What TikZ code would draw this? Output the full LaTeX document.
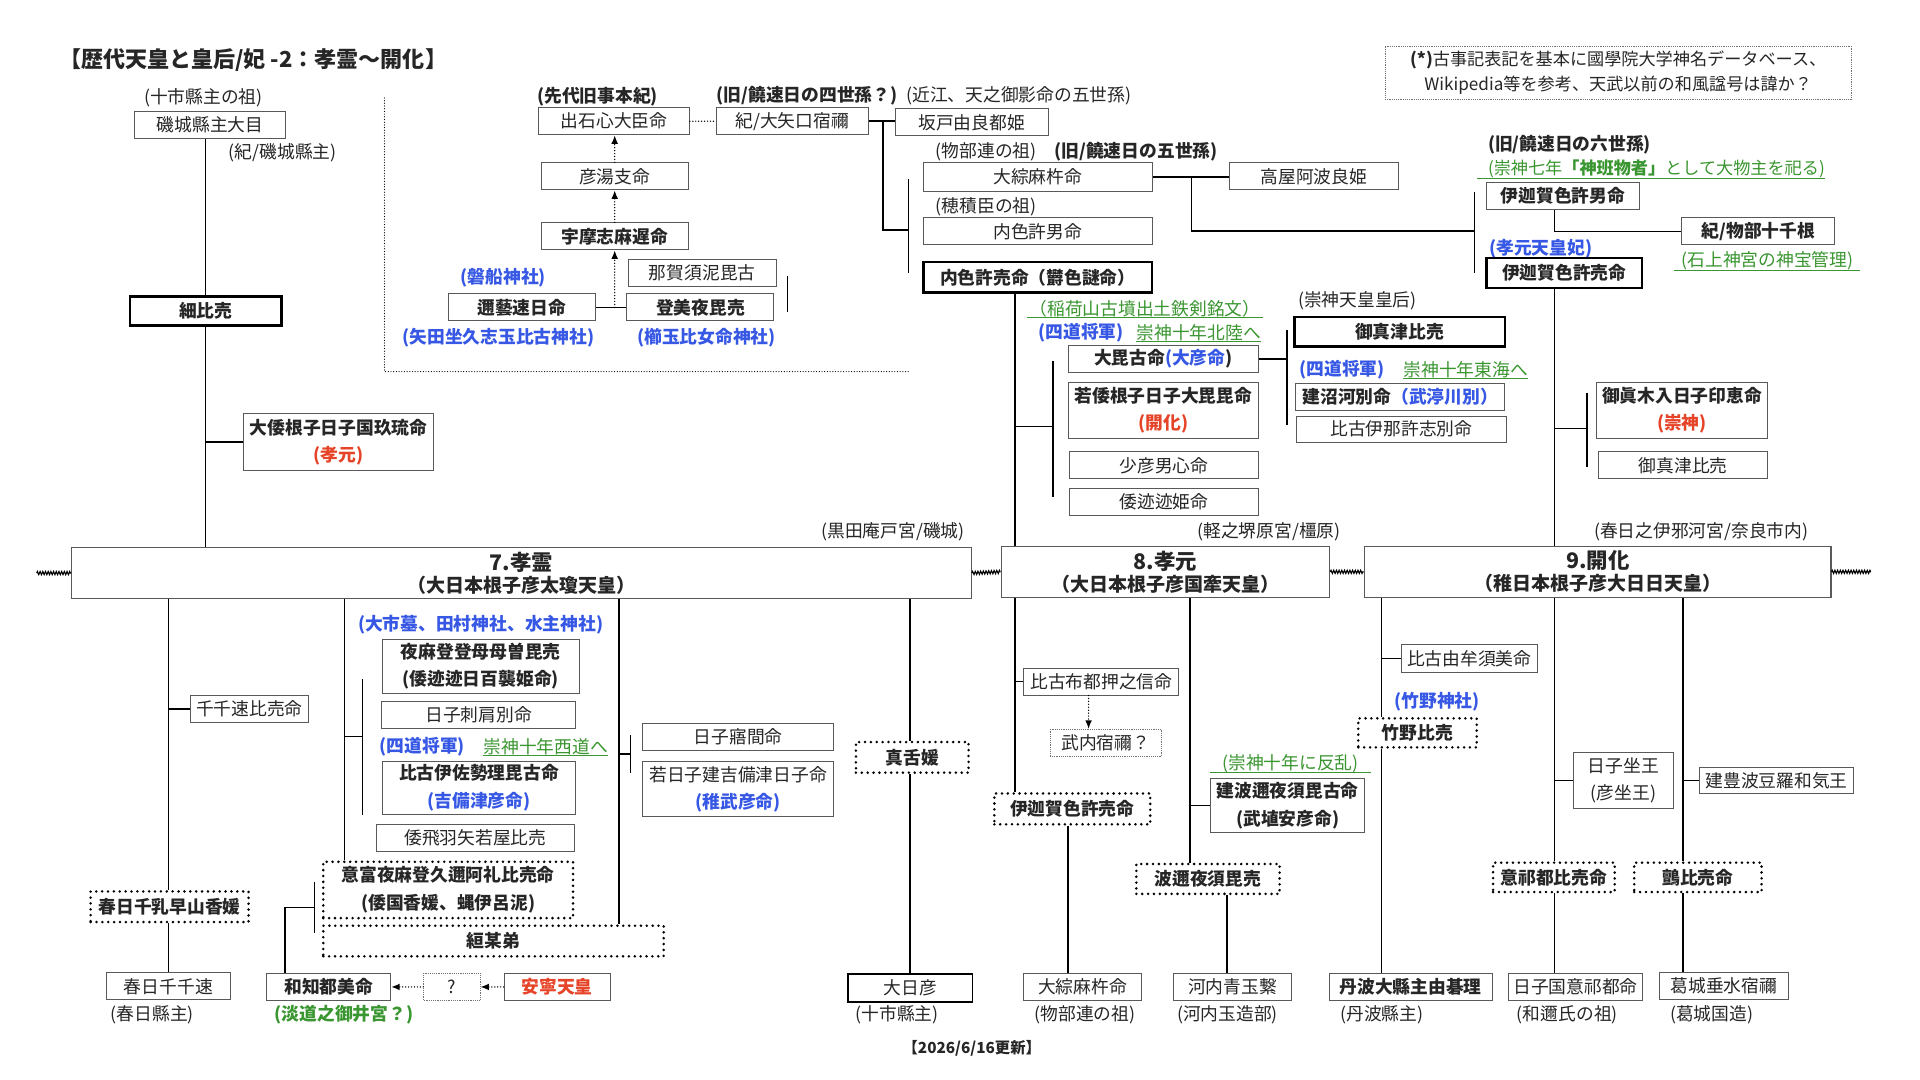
\documentclass[tikz,border=0pt]{standalone}
\usepackage{fontspec}
\setmainfont{Noto Sans CJK JP}
\usetikzlibrary{arrows.meta,decorations.pathmorphing}
\definecolor{nblue}{RGB}{55,88,228}
\definecolor{nred}{RGB}{230,68,40}
\definecolor{ngreen}{RGB}{58,150,48}
\newcommand\nfont{\fontsize{14.5}{22.5}\selectfont}
\newcommand\efont{\fontsize{17.5}{18}\selectfont}
\tikzset{sz/.style 2 args={minimum width=#1pt,minimum height=#2pt}}

\begin{document}
\begin{tikzpicture}[x=1pt,y=-1pt]
	\tikzstyle{every node}=[font=\nfont,inner sep=0pt,text=black!85]
	\tikzstyle{namebox}=[draw=black!65,line width=0.8pt]
	\tikzstyle{heavybox}=[draw=black,line width=2pt,font=\nfont\bfseries]
	\tikzstyle{dotbox}=[draw=black,line width=2.3pt,dash pattern=on 0pt off 4.8pt,line cap=round,font=\nfont\bfseries]
	\tikzstyle{faintbox}=[draw=black!55,line width=0.6pt,dash pattern=on 0.7pt off 0.8pt]
	\tikzstyle{emperor}=[draw=black!65,line width=0.9pt,align=center,font=\fontsize{15.5}{18}\selectfont\bfseries]
	\tikzstyle{conn}=[line width=1.2pt]
	\tikzstyle{dotconn}=[line width=1.2pt,dash pattern=on 0pt off 2.4pt,line cap=round]
	\tikzstyle{headarrow}=[-{Latex[length=7pt,width=5.5pt]}]
	\tikzstyle{shrine}=[text=nblue,font=\nfont\bfseries]
	\tikzstyle{note}=[text=ngreen]
	\tikzstyle{uline}=[ngreen,line width=0.8pt]
	\tikzstyle{squig}=[decorate,decoration={zigzag,amplitude=1.3pt,segment length=2.2pt},line width=0.9pt]

	\fill[white] (0,0) rectangle (1568,882);
	\useasboundingbox (0,0) rectangle (1568,882);

	% header
	\node[anchor=west,font=\fontsize{18}{20}\selectfont\bfseries] (title) at (48,49) {【歴代天皇と皇后/妃 -2：孝霊〜開化】};
	\node[faintbox,sz={381}{44},align=center,font=\fontsize{14}{20.5}\selectfont] (source) at (1321.5,59.5) {\textbf{(*)}古事記表記を基本に國學院大学神名データベース、\\Wikipedia等を参考、天武以前の和風諡号は諱か？};

	% left column
	\node (tochi) at (166,80) {(十市縣主の祖)};
	\node[namebox,sz={123}{22}] (ome) at (171.5,102) {磯城縣主大目};
	\node (kishiki) at (231,125) {(紀/磯城縣主)};
	\node[heavybox,sz={124}{24}] (hosohime) at (168,254) {細比売};
	\node[namebox,sz={155}{46},align=center,font=\nfont\bfseries] (kuniku) at (276.5,361) {大倭根子日子国玖琉命\\\textcolor{nred}{(孝元)}};

	% mononobe block
	\draw[dotconn,line width=1pt,dash pattern=on 0pt off 2.2pt] (314,80) -- (314,303.5) -- (742,303.5);
	\node[font=\nfont\bfseries] (kujiki) at (488,79) {(先代旧事本紀)};
	\node[namebox,sz={123}{22}] (izushi) at (501.5,99) {出石心大臣命};
	\node[namebox,sz={120}{22}] (hikoyu) at (502,144) {彦湯支命};
	\node[namebox,sz={120}{22},font=\nfont\bfseries] (umashi) at (502,193) {宇摩志麻遅命};
	\node[shrine] (iwafune) at (411,227) {(磐船神社)};
	\node[namebox,sz={120}{22},font=\nfont\bfseries] (nigi) at (426,251) {邇藝速日命};
	\node[shrine] (yata) at (407,276) {(矢田坐久志玉比古神社)};
	\node[namebox,sz={121}{22}] (nagasune) at (573.5,223) {那賀須泥毘古};
	\node[namebox,sz={120}{22},font=\nfont\bfseries] (tomiya) at (572,251) {登美夜毘売};
	\node[shrine] (kushi) at (577,276) {(櫛玉比女命神社)};

	\node[anchor=west,font=\nfont\bfseries] (yonse) at (585,78) {(旧/饒速日の四世孫？)};
	\node[anchor=west] (oumi) at (740,78) {(近江、天之御影命の五世孫)};
	\node[namebox,sz={124}{22}] (oyaguchi) at (647,99) {紀/大矢口宿禰};
	\node[namebox,sz={125}{22}] (sakato) at (793.5,100) {坂戸由良都姫};
	\node[anchor=west] (mononobe) at (764,124) {(物部連の祖)};
	\node[anchor=west,font=\nfont\bfseries] (gose) at (861,124) {(旧/饒速日の五世孫)};
	\node[namebox,sz={187}{23}] (oheso) at (847.5,144.5) {大綜麻杵命};
	\node[anchor=west] (hozumi) at (764,169) {(穂積臣の祖)};
	\node[namebox,sz={187}{22}] (utsushio) at (847.5,189) {内色許男命};
	\node[heavybox,sz={187}{25}] (utsushime) at (847.5,226.5) {内色許売命（欝色謎命）};
	\node[namebox,sz={138}{22}] (takaya) at (1073,144) {高屋阿波良姫};

	\node[anchor=west,font=\nfont\bfseries] (rokuse) at (1215,118) {(旧/饒速日の六世孫)};
	\node[anchor=west,note,font=\fontsize{14}{20}\selectfont] (mitoshi) at (1215,138) {(崇神七年\textbf{「神班物者」}として大物主を祀る)};
	\node[namebox,sz={125}{22},font=\nfont\bfseries] (ikagao) at (1276.5,160) {伊迦賀色許男命};
	\node[namebox,sz={125}{22},font=\nfont\bfseries] (tochine) at (1436,189) {紀/物部十千根};
	\node[anchor=west,shrine] (kisaki) at (1216,203) {(孝元天皇妃)};
	\node[anchor=west,note] (isonokami) at (1373,213) {(石上神宮の神宝管理)};
	\node[heavybox,sz={127}{24.5}] (ikagame) at (1277.5,223) {伊迦賀色許売命};

	% ohbiko block
	\node[note] (inari) at (935,252) {（稲荷山古墳出土鉄剣銘文）};
	\node[anchor=west,shrine] (shido1) at (848,272) {(四道将軍)};
	\node[anchor=west,note] (hokuriku) at (928,272) {崇神十年北陸へ};
	\node[namebox,sz={155}{22},font=\nfont\bfseries] (ohbiko) at (950,293) {大毘古命\textcolor{nblue}{(大彦命}) };
	\node[namebox,sz={155}{45.5},align=center,font=\nfont\bfseries] (kaika) at (950,335) {若倭根子日子大毘毘命\\\textcolor{nred}{(開化)}};
	\node[namebox,sz={155}{22}] (sukuna) at (950.5,380) {少彦男心命};
	\node[namebox,sz={155}{22}] (yamatoto) at (950.5,410) {倭迹迹姫命};
	\node[anchor=west] (kogo) at (1060,246) {(崇神天皇皇后)};
	\node[heavybox,sz={172}{24}] (mimatsu) at (1143,271) {御真津比売};
	\node[anchor=west,shrine] (shido2) at (1061,302) {(四道将軍)};
	\node[anchor=west,note] (tokai) at (1146,302) {崇神十年東海へ};
	\node[namebox,sz={171}{22},font=\nfont\bfseries] (takenuna) at (1143.5,324) {建沼河別命\textcolor{nblue}{（武渟川別）}};
	\node[namebox,sz={171}{21}] (ikoshi) at (1144.5,350.5) {比古伊那許志別命};
	\node[namebox,sz={140}{45.5},align=center,font=\nfont\bfseries] (sujin) at (1373.6,335) {御眞木入日子印恵命\\\textcolor{nred}{(崇神)}};
	\node[namebox,sz={138}{22}] (mimatsu2) at (1374.6,380) {御真津比売};

	% emperors
	\node[anchor=east] (kuroda) at (788,434) {(黒田庵戸宮/磯城)};
	\node[anchor=east] (karu) at (1095,434) {(軽之堺原宮/橿原)};
	\node[anchor=east] (isagawa) at (1477,434) {(春日之伊邪河宮/奈良市内)};
	\node[emperor,sz={734.6}{42}] (k7) at (426,468) {{\efont 7.孝霊}\\（大日本根子彦太瓊天皇）};
	\node[emperor,sz={268.4}{42}] (k8) at (951.8,467) {{\efont 8.孝元}\\（大日本根子彦国牽天皇）};
	\node[emperor,sz={381}{42}] (k9) at (1304.8,467) {{\efont 9.開化}\\（稚日本根子彦大日日天皇）};
	\coordinate (wl) at (30,468);
	\coordinate (wr) at (1528,467);
	\draw[squig] (wl) -- (k7.west);
	\draw[squig] (k7.east) -- (k8.west);
	\draw[squig] (k8.east) -- (k9.west);
	\draw[squig] (k9.east) -- (wr);

	% below korei
	\node[namebox,sz={96}{22.5}] (chihaya) at (203.7,579) {千千速比売命};
	\node[dotbox,sz={129}{25}] (kasuga) at (138.5,740.5) {春日千乳早山香媛};
	\node[namebox,sz={101}{22}] (chichi) at (137.5,805.5) {春日千千速};
	\node (kasugaagata) at (124.5,829) {(春日縣主)};
	\node[shrine] (ichi) at (392.5,510.5) {(大市墓、田村神社、水主神社)};
	\node[namebox,sz={160.5}{44},align=center,font=\nfont\bfseries] (momoso) at (392.6,544) {夜麻登登母母曽毘売\\(倭迹迹日百襲姫命)};
	\node[namebox,sz={158}{22.3}] (sashikata) at (390.8,584) {日子刺肩別命};
	\node[anchor=west,shrine] (shido3) at (310,610) {(四道将軍)};
	\node[anchor=west,note] (saido) at (394.7,610) {崇神十年西道へ};
	\node[namebox,sz={157.6}{44},align=center,font=\nfont\bfseries] (isaseri) at (391.2,643.5) {比古伊佐勢理毘古命\\\textcolor{nblue}{(吉備津彦命)}};
	\node[namebox,sz={161}{22.4}] (hayaya) at (388.3,684.2) {倭飛羽矢若屋比売};
	\node[dotbox,sz={204}{46},align=center] (kuwashi) at (366,726.8) {意富夜麻登久邇阿礼比売命\\(倭国香媛、蝿伊呂泥)};
	\node[dotbox,sz={278}{25}] (haeirodo) at (403,768.5) {絙某弟};
	\node[namebox,sz={101}{22},font=\nfont\bfseries] (wachi) at (268.5,806) {和知都美命};
	\node[note,font=\nfont\bfseries] (awaji) at (281,829) {(淡道之御井宮？)};
	\node[faintbox,sz={46}{22}] (hatena) at (369,806) {?};
	\node[namebox,sz={86.6}{22},font=\nfont\bfseries,text=nred] (annei) at (455,806) {安寧天皇};
	\node[namebox,sz={156.5}{22.5}] (sachima) at (602.8,601.8) {日子寤間命};
	\node[namebox,sz={156.5}{44.7},align=center] (wakahiko) at (602.8,644.6) {若日子建吉備津日子命\\\textcolor{nblue}{\bfseries(稚武彦命)}};
	\node[dotbox,sz={92}{25}] (mashita) at (745,618.5) {真舌媛};
	\node[namebox,draw=black,line width=1.4pt,sz={101.6}{23}] (ohihiko) at (743.5,807) {大日彦};
	\node (tochi2) at (732.6,829) {(十市縣主)};

	% below kogen
	\node[namebox,sz={126.7}{21.8}] (futsu) at (899.4,556.7) {比古布都押之信命};
	\node[faintbox,sz={91}{22.4}] (takeuchi) at (903.1,606.8) {武内宿禰？};
	\node[dotbox,sz={127.3}{25.2}] (ikagame2) at (875.7,660.6) {伊迦賀色許売命};
	\node[namebox,sz={96}{21.6}] (oheso2) at (884,806.2) {大綜麻杵命};
	\node (mononobe2) at (886,829) {(物部連の祖)};
	\node[anchor=west,note] (hanran) at (998,623.4) {(崇神十年に反乱)};
	\node[namebox,sz={126}{44.4},align=center,font=\nfont\bfseries] (haniyasuhiko) at (1051.6,657.8) {建波邇夜須毘古命\\(武埴安彦命)};
	\node[dotbox,sz={117}{24.4}] (haniyasu) at (986.5,717.8) {波邇夜須毘売};
	\node[namebox,sz={96}{21.6}] (aotama) at (1006.6,806.2) {河内青玉繋};
	\node (tamatsukuri) at (1002.5,829) {(河内玉造部)};

	% below kaika
	\node[namebox,sz={111}{22.3}] (yumusu) at (1199.9,537.8) {比古由牟須美命};
	\node[shrine] (takanojinja) at (1173.6,573) {(竹野神社)};
	\node[dotbox,sz={96.7}{23.7}] (takano) at (1157.6,598.5) {竹野比売};
	\node[namebox,sz={133.3}{22.3},font=\nfont\bfseries] (yugori) at (1152,806) {丹波大縣主由碁理};
	\node (tanba) at (1128.6,829) {(丹波縣主)};
	\node[namebox,sz={82.4}{45.6},align=center] (hikoimasu) at (1325.8,637.2) {日子坐王\\(彦坐王)};
	\node[dotbox,sz={99.3}{24}] (okedo) at (1269,716.5) {意祁都比売命};
	\node[namebox,sz={109.4}{22.3}] (hikokuni) at (1286.7,806) {日子国意祁都命};
	\node (wani) at (1280,829) {(和邇氏の祖)};
	\node[namebox,sz={125.6}{21.7}] (toyo) at (1450.8,637.5) {建豊波豆羅和気王};
	\node[dotbox,sz={104}{24}] (washi) at (1386.6,716.5) {鸇比売命};
	\node[namebox,sz={105}{22}] (tarumi) at (1407.8,805) {葛城垂水宿禰};
	\node (katsuragi) at (1397.8,829) {(葛城国造)};

	\node[font=\fontsize{12.5}{14}\selectfont\bfseries] (koshin) at (793.6,856) {【2026/6/16更新】};

	% underlines
	\draw[uline] ([xshift=-2pt]inari.south west) -- ([xshift=2pt]inari.south east);
	\draw[uline] (hokuriku.south west) -- (hokuriku.south east);
	\draw[uline] (tokai.south west) -- (tokai.south east);
	\draw[uline] (saido.south west) -- (saido.south east);
	\draw[uline] ([xshift=-10pt]hanran.south west) -- ([xshift=10pt]hanran.south east);
	\draw[uline] ([xshift=-9pt]mitoshi.south west) -- (mitoshi.south east);
	\draw[uline] ([xshift=-6pt]isonokami.south west) -- ([xshift=5pt]isonokami.south east);

	% x positions of the drop lines
	\coordinate (vA) at (137.7,0);
	\coordinate (vB) at (281.4,0);
	\coordinate (vC) at (505.7,0);
	\coordinate (vD) at (743.3,0);
	\coordinate (vE) at (829,0);
	\coordinate (vF) at (972,0);
	\coordinate (vG) at (1128,0);
	\coordinate (vH) at (1269.5,0);
	\coordinate (vI) at (1374.3,0);
	\coordinate (vJ) at (232.7,0);
	\coordinate (vK) at (889,0);
	\coordinate (vL) at (872,0);
	\coordinate (vM) at (1002,0);
	\coordinate (vN) at (721,0);
	\coordinate (vO) at (973,0);

	% connectors, top
	\draw[conn] (ome.south -| hosohime) -- (hosohime.north);
	\draw[conn] (hosohime.south) -- (hosohime.south |- k7.north);
	\draw[conn] (hosohime.south |- kuniku.west) -- (kuniku.west);
	\draw[dotconn,headarrow] (hikoyu.north) -- (hikoyu.north |- izushi.south);
	\draw[dotconn,headarrow] (umashi.north) -- (umashi.north |- hikoyu.south);
	\draw[conn] (nigi.east) -- (tomiya.west);
	\draw[dotconn,headarrow] (umashi.south |- nigi.east) -- (umashi.south);
	\draw[conn] (643,225) -- (643,255);
	\draw[dotconn] (izushi.east) -- (oyaguchi.west);
	\draw[conn] (oyaguchi.east) -- (oyaguchi.east -| sakato.west);
	\draw[conn] (vN |- oyaguchi.east) -- (721,188) -- (742,188);
	\draw[conn] (742,146) -- (742,223);
	\draw[conn] (oheso.east) -- (oheso.east -| takaya.west);
	\draw[conn] (vO |- oheso.east) -- (973,188.5) -- (1204,188.5);
	\draw[conn] (1204,156.5) -- (1204,223);
	\draw[conn] (vH |- ikagao.south) -- (vH |- tochine.west) -- (tochine.west);
	\draw[conn] (vH |- ikagame.south) -- (vH |- k9.north);
	\draw[conn] (1269.5,350) -- (1296,350);
	\draw[conn] (1296,321) -- (1296,381);
	\draw[conn] (vE |- utsushime.south) -- (vE |- k8.north);
	\draw[conn] (829,348.5) -- (860,348.5);
	\draw[conn] (860,295) -- (860,406);
	\draw[conn] (ohbiko.east) -- (1051,293);
	\draw[conn] (1051,269.5) -- (1051,347);

	% connectors, korei
	\draw[conn] (vA |- k7.south) -- (vA |- kasuga.north);
	\draw[conn] (vA |- kasuga.south) -- (vA |- chichi.north);
	\draw[conn] (vA |- chihaya.west) -- (chihaya.west);
	\draw[conn] (vB |- k7.south) -- (vB |- kuwashi.north);
	\draw[conn] (281.4,601.6) -- (296,601.6);
	\draw[conn] (296,554.5) -- (296,665.5);
	\draw[conn] (vC |- k7.south) -- (vC |- haeirodo.north);
	\draw[conn] (505.7,615.8) -- (514.8,615.8);
	\draw[conn] (514.8,600.3) -- (514.8,631.3);
	\draw[conn] (vD |- k7.south) -- (vD |- mashita.north);
	\draw[conn] (vD |- mashita.south) -- (vD |- ohihiko.north);
	\draw[conn] (vJ |- wachi.north) -- (232.7,741) -- (256.7,741);
	\draw[conn] (256.7,720) -- (256.7,761.6);
	\draw[dotconn,headarrow] (annei.west) -- (hatena.east);
	\draw[dotconn,headarrow] (hatena.west) -- (wachi.east);

	% connectors, kogen
	\draw[conn] (vE |- k8.south) -- (vE |- ikagame2.north);
	\draw[conn] (vE |- futsu.west) -- (futsu.west);
	\draw[dotconn,headarrow] (vK |- futsu.south) -- (vK |- takeuchi.north);
	\draw[conn] (vL |- ikagame2.south) -- (vL |- oheso2.north);
	\draw[conn] (vF |- k8.south) -- (vF |- haniyasu.north);
	\draw[conn] (vF |- haniyasuhiko.west) -- (haniyasuhiko.west);
	\draw[conn] (vM |- haniyasu.south) -- (vM |- aotama.north);

	% connectors, kaika
	\draw[conn] (vG |- k9.south) -- (vG |- takano.north);
	\draw[conn] (vG |- takano.south) -- (vG |- yugori.north);
	\draw[conn] (vG |- yumusu.west) -- (yumusu.west);
	\draw[conn] (vH |- k9.south) -- (vH |- okedo.north);
	\draw[conn] (vH |- okedo.south) -- (vH |- hikokuni.north);
	\draw[conn] (vH |- hikoimasu.west) -- (hikoimasu.west);
	\draw[conn] (vI |- k9.south) -- (vI |- washi.north);
	\draw[conn] (vI |- washi.south) -- (vI |- tarumi.north);
	\draw[conn] (vI |- toyo.west) -- (toyo.west);
\end{tikzpicture}
\end{document}
